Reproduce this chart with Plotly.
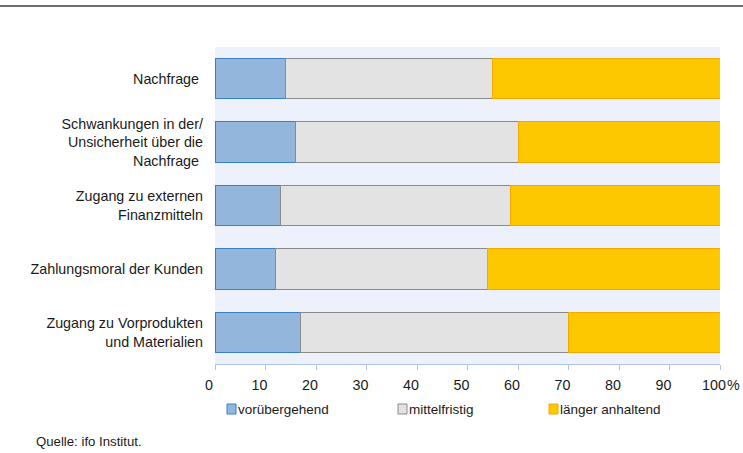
import plotly.graph_objects as go

categories = [
    "Nachfrage ",
    "Schwankungen in der/<br>Unsicherheit über die<br>Nachfrage ",
    "Zugang zu externen<br>Finanzmitteln",
    "Zahlungsmoral der Kunden",
    "Zugang zu Vorprodukten<br>und Materialien",
]
voruebergehend = [14, 16, 13, 12, 17]
mittelfristig = [41, 44, 45.5, 42, 53]
laenger = [45, 40, 41.5, 46, 30]
series_names = ["vorübergehend", "mittelfristig", "länger anhaltend"]
tick_vals = [0, 10, 20, 30, 40, 50, 60, 70, 80, 90, 100]
tick_text = ["0", "10", "20", "30", "40", "50", "60", "70", "80", "90", "100"]

fills = ["#93B7DC", "#E3E3E3", "#FDC800"]
borders = ["#3A7EC6", "#8A8A8A", "#F5A800"]

font = "Liberation Sans, Arial, sans-serif"
txt = "#1a1a1a"

fig = go.Figure()
for name, vals, fc, bc in zip(series_names, [voruebergehend, mittelfristig, laenger], fills, borders):
    fig.add_trace(go.Bar(
        y=categories, x=vals, name=name, orientation="h",
        marker=dict(color=fc, line=dict(color=bc, width=1)),
        showlegend=False, hoverinfo="x+name",
    ))

fig.update_layout(
    width=743, height=453,
    margin=dict(l=215, r=23, t=47, b=89),
    barmode="stack", bargap=0.36,
    plot_bgcolor="#ECF1FB", paper_bgcolor="white",
    font=dict(family=font, size=14.3, color=txt),
    xaxis=dict(range=[0, 100], tickvals=tick_vals, ticktext=tick_text,
               showgrid=False, zeroline=False, showline=True, linecolor="#AFC4EA",
               linewidth=1, ticks="outside", ticklen=5, tickcolor="#AFC4EA",
               ticklabelstandoff=3, ticklabelshift=-6,
               tickfont=dict(size=14.3, color=txt)),
    yaxis=dict(autorange="reversed", showgrid=False, zeroline=False,
               ticks="", ticklabelstandoff=11, tickfont=dict(size=14.3, color=txt)),
)

# top rule
fig.add_shape(type="line", xref="paper", yref="paper", x0=-215/505, x1=(743-215)/505,
              y0=1 + 41/317, y1=1 + 41/317, line=dict(color="#6E6E6E", width=2))

# "%" after the 100 label
fig.add_annotation(xref="paper", yref="paper", x=(742-215)/505, y=-21/317, text="%",
                   showarrow=False, xanchor="right", yanchor="middle",
                   font=dict(size=14.3, color=txt))

# custom legend
leg_x = [227, 398, 549]
leg_y = 409
for name, fc, bc, lx in zip(series_names, fills, borders, leg_x):
    fig.add_shape(type="rect", xref="paper", yref="paper",
                  x0=(lx - 215) / 505, x1=(lx + 9 - 215) / 505,
                  y0=(364 - (leg_y + 5)) / 317, y1=(364 - (leg_y - 5)) / 317,
                  fillcolor=fc, line=dict(color=bc, width=1))
    fig.add_annotation(xref="paper", yref="paper", x=(lx + 9 - 215) / 505,
                       y=(364 - leg_y) / 317, text=name, showarrow=False,
                       xanchor="left", yanchor="middle",
                       font=dict(size=13.5, color=txt))

fig.add_annotation(xref="paper", yref="paper", x=(34 - 215) / 505, y=(364 - 441) / 317,
                   text="Quelle: ifo Institut.", showarrow=False, xanchor="left",
                   yanchor="middle", font=dict(size=13.2, color=txt))

fig.write_html("out.html")
